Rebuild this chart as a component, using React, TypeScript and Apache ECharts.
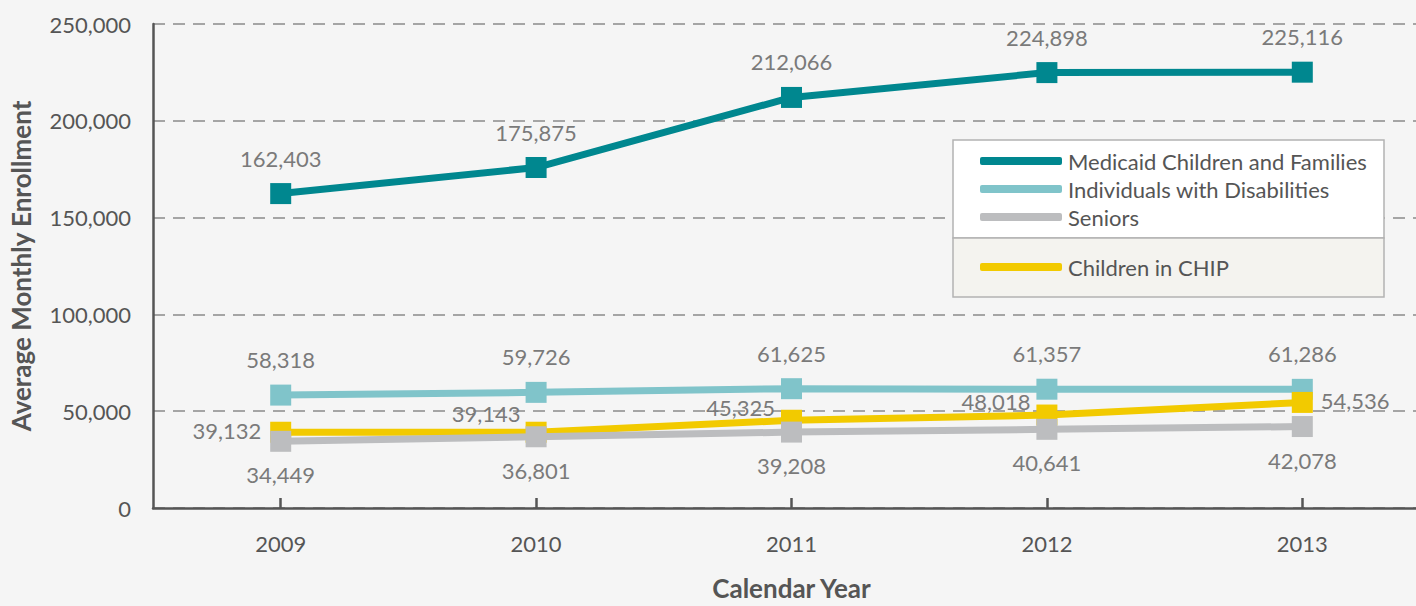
import React, { useEffect, useRef } from "react";
import * as echarts from "echarts";

const years = ["2009", "2010", "2011", "2012", "2013"];
const medicaid = [162403, 175875, 212066, 224898, 225116];
const disabilities = [58318, 59726, 61625, 61357, 61286];
const seniors = [34449, 36801, 39208, 40641, 42078];
const chip = [39132, 39143, 45325, 48018, 54536];
const yTicks = [0, 50000, 100000, 150000, 200000, 250000];

const FONT = "Lato";
const LABEL_COLOR = "#7a7a7a";
const AXIS_COLOR = "#555555";

const fmt = (v: number) => v.toLocaleString("en-US");

export default function App() {
  const ref = useRef<HTMLDivElement>(null);
  useEffect(() => {
    if (!ref.current) return;
    const chart = echarts.init(ref.current, undefined, { renderer: "svg" });
    const baseLabel = {
      show: true,
      color: LABEL_COLOR,
      fontFamily: FONT,
      fontSize: 22,
      formatter: (p: any) => fmt(p.value),
    };
    const line = (name: string, data: number[], color: string, label: any, z: number, dataOverride?: any[]) => ({
      name,
      type: "line",
      data: dataOverride || data,
      symbol: "rect",
      symbolSize: 21,
      lineStyle: { color, width: 7 },
      itemStyle: { color },
      label,
      z,
      emphasis: { disabled: true },
    });
    const chipLabels: any[] = [
      { position: "left", distance: 9, offset: [0, -2] },
      { position: "left", distance: 5, offset: [0, -19] },
      { position: "left", distance: 6, offset: [0, -13] },
      { position: "left", distance: 6, offset: [0, -14] },
      { position: "right", distance: 8, offset: [0, -2] },
    ];
    const chipData = chip.map((v, i) => ({ value: v, label: chipLabels[i] }));
    const legendText = { fontFamily: FONT, fontSize: 22, color: AXIS_COLOR, lineHeight: 26, padding: [0, 0, 0, 1] };
    chart.setOption({
      animation: false,
      backgroundColor: "#f5f5f5",
      textStyle: { fontFamily: FONT },
      grid: { left: 152, right: 0, top: 24, bottom: 94, containLabel: false },
      xAxis: {
        type: "category",
        data: years,
        boundaryGap: true,
        name: "Calendar Year",
        nameLocation: "middle",
        nameGap: 67,
        nameTextStyle: { fontFamily: FONT, fontSize: 26, fontWeight: "bold", color: AXIS_COLOR },
        axisLine: { lineStyle: { color: AXIS_COLOR, width: 2.5 } },
        axisTick: { show: true, inside: true, alignWithLabel: true, length: 10, lineStyle: { color: AXIS_COLOR, width: 2.5 } },
        axisLabel: { color: AXIS_COLOR, fontFamily: FONT, fontSize: 22, margin: 24 },
        splitLine: { show: false },
      },
      yAxis: {
        type: "value",
        min: yTicks[0],
        max: yTicks[yTicks.length - 1],
        interval: yTicks[1] - yTicks[0],
        name: "Average Monthly Enrollment",
        nameLocation: "middle",
        nameGap: 119,
        nameTextStyle: { fontFamily: FONT, fontSize: 26, fontWeight: "bold", color: AXIS_COLOR },
        axisLine: { show: true, lineStyle: { color: AXIS_COLOR, width: 2.5 } },
        axisTick: { show: false },
        axisLabel: { color: AXIS_COLOR, fontFamily: FONT, fontSize: 22, margin: 22, formatter: (v: number) => fmt(v) },
        splitLine: { show: true, lineStyle: { color: "#8a8a8a", width: 1.5, type: [12, 8] } },
      },
      legend: [
        {
          orient: "vertical",
          left: 975,
          top: 143,
          itemWidth: 82,
          itemHeight: 8,
          itemGap: 2,
          icon: "roundRect",
          selectedMode: false,
          data: ["Medicaid Children and Families", "Individuals with Disabilities", "Seniors"],
          textStyle: legendText,
          z: 10,
        },
        {
          orient: "vertical",
          left: 975,
          top: 249,
          itemWidth: 82,
          itemHeight: 8,
          icon: "roundRect",
          selectedMode: false,
          data: ["Children in CHIP"],
          textStyle: legendText,
          z: 10,
        },
      ],
      graphic: [
        {
          type: "rect",
          z: 5,
          shape: { x: 953, y: 140, width: 431, height: 98 },
          style: { fill: "#ffffff", stroke: "#b3b3b3", lineWidth: 1.5 },
        },
        {
          type: "rect",
          z: 5,
          shape: { x: 953, y: 238, width: 431, height: 59 },
          style: { fill: "#f4f3ef", stroke: "#b3b3b3", lineWidth: 1.5 },
        },
      ],
      series: [
        line("Medicaid Children and Families", medicaid, "#00878f", { ...baseLabel, position: "top", distance: 14 }, 2),
        line("Individuals with Disabilities", disabilities, "#80c4ca", { ...baseLabel, position: "top", distance: 14 }, 3),
        line("Children in CHIP", chip, "#f2ca00", { ...baseLabel }, 4, chipData),
        line("Seniors", seniors, "#bcbdbf", { ...baseLabel, position: "bottom", distance: 12 }, 5),
      ],
    });
    return () => chart.dispose();
  }, []);
  return (
    <div style={{ position: "absolute", left: 0, top: 0, width: 1416, height: 606, overflow: "hidden" }}>
      <div ref={ref} style={{ width: 1430, height: 606 }} />
    </div>
  );
}
